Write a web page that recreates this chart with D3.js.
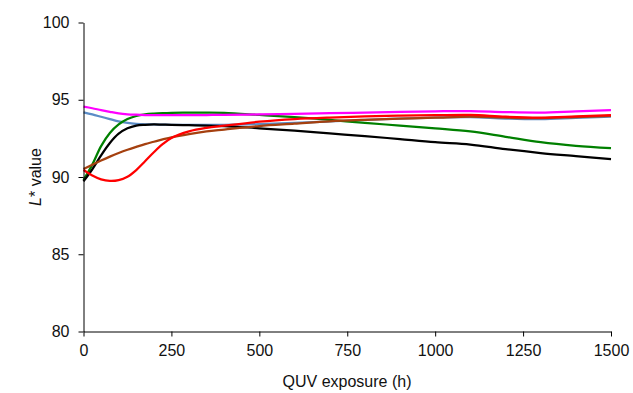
<!DOCTYPE html>
<html>
<head>
<meta charset="utf-8">
<script src="https://cdnjs.cloudflare.com/ajax/libs/d3/7.8.5/d3.min.js"></script>
<style>
  body { margin: 0; background: #fff; }
  svg { display: block; font-family: Arial, "Liberation Sans", sans-serif; }
</style>
</head>
<body>
<div id="chart-area"></div>
<script>
// QUV exposure (h) and L* readings per sample
var hours = [0, 25, 50, 75, 100, 125, 150, 175, 200, 225, 250, 300, 350, 400, 500, 600, 700, 800, 900, 1000, 1100, 1200, 1300, 1400, 1500];

var pinkVals  = [94.55, 94.45, 94.33, 94.22, 94.12, 94.06, 94.03, 94.01, 94.0, 94.0, 94.0, 94.0, 94.01, 94.02, 94.05, 94.08, 94.13, 94.17, 94.21, 94.25, 94.27, 94.2, 94.17, 94.25, 94.33];
var blueVals  = [94.18, 94.05, 93.9, 93.75, 93.6, 93.5, 93.44, 93.41, 93.4, 93.39, 93.38, 93.37, 93.37, 93.38, 93.42, 93.5, 93.6, 93.7, 93.78, 93.85, 93.88, 93.78, 93.74, 93.82, 93.9];
var greenVals = [89.8, 90.8, 92.0, 92.85, 93.4, 93.75, 93.95, 94.05, 94.1, 94.13, 94.15, 94.17, 94.17, 94.15, 94.02, 93.88, 93.7, 93.5, 93.33, 93.15, 92.95, 92.6, 92.25, 92.02, 91.87];
var blackVals = [89.72, 90.5, 91.4, 92.2, 92.8, 93.15, 93.33, 93.38, 93.4, 93.39, 93.38, 93.35, 93.32, 93.3, 93.15, 93.0, 92.82, 92.65, 92.45, 92.25, 92.1, 91.8, 91.55, 91.35, 91.15];
var redVals   = [90.45, 90.1, 89.85, 89.75, 89.8, 90.02, 90.45, 91.02, 91.6, 92.12, 92.52, 92.95, 93.18, 93.32, 93.58, 93.75, 93.85, 93.92, 93.97, 94.0, 94.02, 93.9, 93.85, 93.92, 94.0];
var brownVals = [90.52, 90.8, 91.07, 91.32, 91.55, 91.76, 91.95, 92.13, 92.28, 92.43, 92.57, 92.78, 92.95, 93.07, 93.3, 93.45, 93.6, 93.7, 93.78, 93.84, 93.9, 93.84, 93.81, 93.88, 93.95];

var xTicks = [0, 250, 500, 750, 1000, 1250, 1500];
var yTicks = [80, 85, 90, 95, 100];

var series = [
  { values: blueVals,  color: "#5b8cc6" },
  { values: greenVals, color: "#008000" },
  { values: blackVals, color: "#000000" },
  { values: brownVals, color: "#a5400f" },
  { values: redVals,   color: "#ff0000" },
  { values: pinkVals,  color: "#ff00ff" }
];

var svg = d3.select("#chart-area").append("svg")
    .attr("width", 633)
    .attr("height", 393);

var x = d3.scaleLinear().domain([0, 1500]).range([83.5, 611]);
var y = d3.scaleLinear().domain([80, 100]).range([331.5, 22.5]);

var line = d3.line()
    .x(function(d) { return x(d[0]); })
    .y(function(d) { return y(d[1]); })
    .curve(d3.curveCatmullRom.alpha(0.5));

series.forEach(function(s) {
  svg.append("path")
    .datum(hours.map(function(h, i) { return [h, s.values[i]]; }))
    .attr("fill", "none")
    .attr("stroke", s.color)
    .attr("stroke-width", 2.25)
    .attr("d", line);
});

// axes
var xAxis = svg.append("g")
    .attr("transform", "translate(0,331.5)")
    .call(d3.axisBottom(x).tickValues(xTicks).tickSize(5).tickSizeOuter(0).tickPadding(8).tickFormat(d3.format("d")));

var yAxis = svg.append("g")
    .attr("transform", "translate(83.5,0)")
    .call(d3.axisLeft(y).tickValues(yTicks).tickSize(5).tickSizeOuter(0).tickPadding(9).tickFormat(d3.format("d")));

[xAxis, yAxis].forEach(function(a) {
  a.select(".domain").attr("stroke", "#000").attr("stroke-width", 1);
  a.selectAll(".tick line").attr("stroke", "#000");
  a.selectAll(".tick text").attr("font-size", 16).attr("fill", "#111")
    .attr("font-family", "Arial, 'Liberation Sans', sans-serif");
});

svg.append("text")
    .attr("x", 347)
    .attr("y", 387)
    .attr("text-anchor", "middle")
    .attr("font-size", 16)
    .attr("fill", "#111")
    .text("QUV exposure (h)");

var yLabel = svg.append("text")
    .attr("transform", "translate(41,177) rotate(-90)")
    .attr("text-anchor", "middle")
    .attr("font-size", 16)
    .attr("fill", "#111");
yLabel.append("tspan").attr("font-style", "italic").text("L");
yLabel.append("tspan").text("* value");
</script>
</body>
</html>
